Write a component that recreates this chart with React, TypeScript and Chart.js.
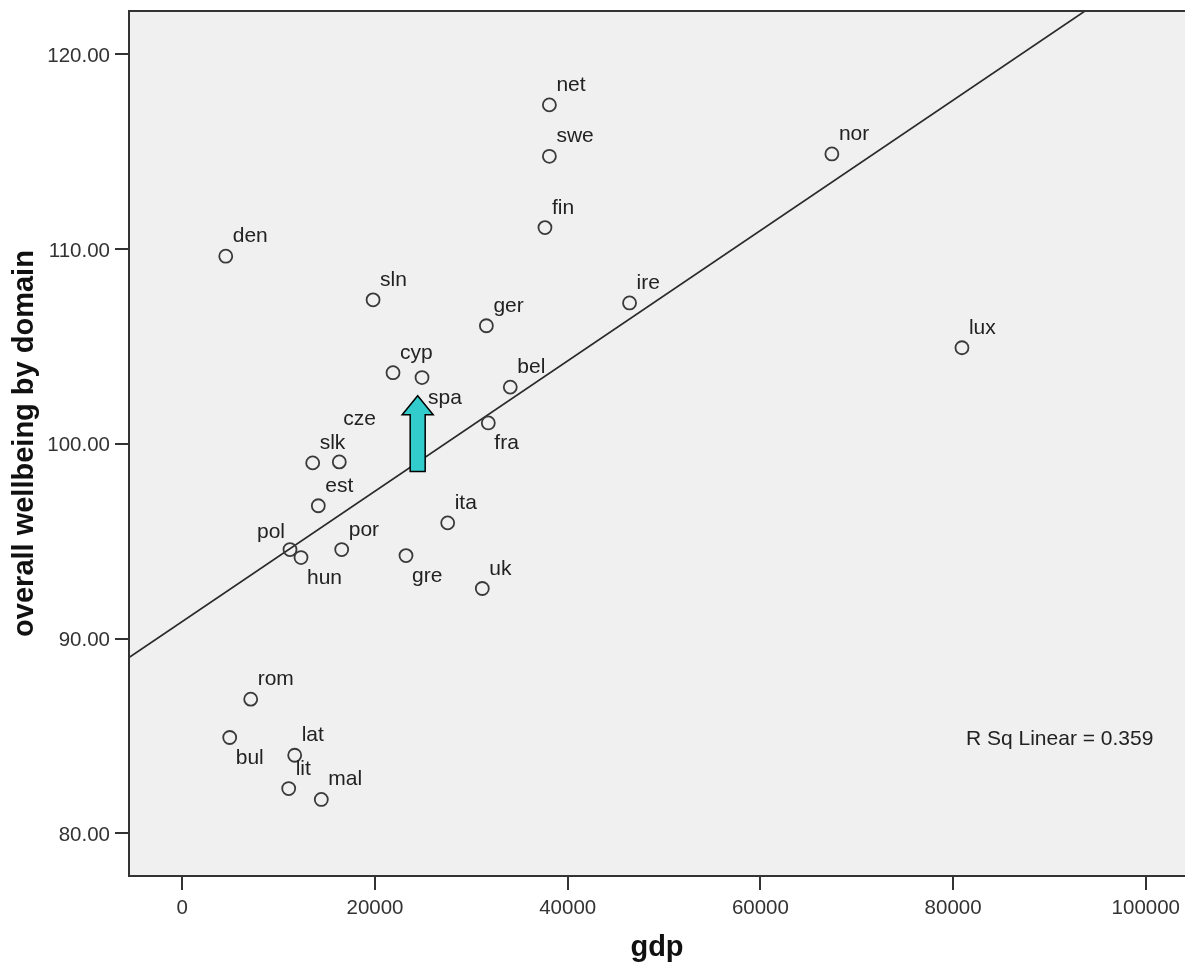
import React, { useEffect, useRef } from "react";
import { Chart, registerables } from "chart.js";

Chart.register(...registerables);

// ---- data ----
const COUNTRIES = ["net", "swe", "fin", "den", "sln", "ger", "ire", "nor", "lux", "cyp", "spa", "bel", "fra", "cze", "slk", "est", "pol", "hun", "por", "gre", "ita", "uk", "rom", "bul", "lat", "lit", "mal"];
const GDP = [38100, 38100, 37640, 4510, 19800, 31560, 46420, 67420, 80920, 21870, 24880, 34040, 31760, 16295, 13534, 14116, 11178, 12320, 16544, 23218, 27545, 31137, 7099, 4920, 11666, 11043, 14427];
const WELLBEING = [117.40, 114.76, 111.10, 109.63, 107.39, 106.06, 107.23, 114.88, 104.93, 103.65, 103.40, 102.91, 101.07, 99.07, 99.02, 96.82, 94.57, 94.16, 94.57, 94.26, 95.94, 92.57, 86.89, 84.92, 84.01, 82.30, 81.74];

const X_TICKS = [0, 20000, 40000, 60000, 80000, 100000];
const Y_TICKS = [80, 90, 100, 110, 120];
const X_MIN = -5532;
const X_MAX = 104070;
const Y_MIN = 77.81;
const Y_MAX = 122.22;

// linear fit line (intercept, slope) and R²
const FIT_INTERCEPT = 90.88;
const FIT_SLOPE = 0.0003345;
const R_SQ_TEXT = "R Sq Linear = 0.359";

// annotation arrow (gdp, from wellbeing, to wellbeing)
const ARROW_GDP = 24430;
const ARROW_FROM = 98.58;
const ARROW_TO = 102.47;

// label placement exceptions (default: above-right)
const LABEL_PLACEMENT: Record<string, string> = {
  spa: "below", fra: "below", gre: "below", hun: "below", bul: "below",
  pol: "left", cze: "high",
};

const FONT = "'Liberation Sans', Arial, Helvetica, sans-serif";

export default function App() {
  const ref = useRef<HTMLCanvasElement | null>(null);

  useEffect(() => {
    const canvas = ref.current;
    if (!canvas) return;

    const bgPlugin = {
      id: "plotBg",
      beforeDraw(chart: any) {
        const { ctx, chartArea: a } = chart;
        ctx.save();
        ctx.fillStyle = "#f0f0f0";
        ctx.fillRect(a.left, a.top, a.right - a.left, a.bottom - a.top);
        ctx.restore();
      },
      afterDraw(chart: any) {
        const { ctx, chartArea: a } = chart;
        ctx.save();
        ctx.strokeStyle = "#333";
        ctx.lineWidth = 2;
        ctx.strokeRect(a.left, a.top, a.right - a.left + 4, a.bottom - a.top);
        ctx.restore();
      },
    };

    const labelPlugin = {
      id: "pointLabels",
      afterDatasetsDraw(chart: any) {
        const { ctx } = chart;
        const meta = chart.getDatasetMeta(0);
        ctx.save();
        ctx.font = `21px ${FONT}`;
        ctx.fillStyle = "#222";
        ctx.textBaseline = "alphabetic";
        meta.data.forEach((pt: any, i: number) => {
          const name = COUNTRIES[i];
          const place = LABEL_PLACEMENT[name] || "above";
          let x = pt.x + 7;
          let y = pt.y - 14;
          ctx.textAlign = "left";
          if (place === "below") { x = pt.x + 6; y = pt.y + 26; }
          else if (place === "left") { ctx.textAlign = "right"; x = pt.x - 5; y = pt.y - 12; }
          else if (place === "high") { x = pt.x + 4; y = pt.y - 37; }
          ctx.fillText(name, x, y);
        });

        // arrow
        const xs = chart.scales.x;
        const ys = chart.scales.y;
        const ax = xs.getPixelForValue(ARROW_GDP);
        const yTip = ys.getPixelForValue(ARROW_TO);
        const yBase = ys.getPixelForValue(ARROW_FROM);
        const shaftHalf = 7.5;
        const headHalf = 15.5;
        const headH = 19;
        ctx.beginPath();
        ctx.moveTo(ax, yTip);
        ctx.lineTo(ax + headHalf, yTip + headH);
        ctx.lineTo(ax + shaftHalf, yTip + headH);
        ctx.lineTo(ax + shaftHalf, yBase);
        ctx.lineTo(ax - shaftHalf, yBase);
        ctx.lineTo(ax - shaftHalf, yTip + headH);
        ctx.lineTo(ax - headHalf, yTip + headH);
        ctx.closePath();
        ctx.fillStyle = "#33cccc";
        ctx.fill();
        ctx.strokeStyle = "#000";
        ctx.lineWidth = 1.5;
        ctx.stroke();

        // R squared
        const a = chart.chartArea;
        ctx.fillStyle = "#222";
        ctx.textAlign = "left";
        ctx.font = `21px ${FONT}`;
        ctx.fillText(R_SQ_TEXT, a.left + 837, a.bottom - 131);
        ctx.restore();
      },
    };

    const chart = new Chart(canvas, {
      type: "scatter",
      data: {
        datasets: [
          {
            label: "countries",
            data: GDP.map((g, i) => ({ x: g, y: WELLBEING[i] })),
            pointStyle: "circle",
            pointRadius: 6.5,
            pointHoverRadius: 6.5,
            pointBorderWidth: 1.8,
            pointBackgroundColor: "rgba(0,0,0,0)",
            pointBorderColor: "#3a3a3a",
            showLine: false,
          },
          {
            type: "line",
            label: "fit",
            data: [X_MIN, X_MAX].map((x) => ({ x, y: FIT_INTERCEPT + FIT_SLOPE * x })),
            borderColor: "#2a2a2a",
            borderWidth: 1.7,
            pointRadius: 0,
            fill: false,
          } as any,
        ],
      },
      options: {
        responsive: false,
        animation: false,
        devicePixelRatio: 1,
        layout: { autoPadding: false, padding: { top: 11, left: 0, right: 0, bottom: 0 } },
        plugins: {
          legend: { display: false },
          tooltip: { enabled: false },
          title: { display: false },
        },
        scales: {
          x: {
            type: "linear",
            min: X_MIN,
            max: X_MAX,
            border: { display: false },
            grid: { display: true, drawOnChartArea: false, drawTicks: true, tickLength: 14, color: "#333", lineWidth: 2 },
            ticks: {
              padding: 6,
              color: "#333",
              font: { family: FONT, size: 20.5 },
              maxRotation: 0,
              callback: (v: any) => String(v),
            },
            afterBuildTicks: (s: any) => { s.ticks = X_TICKS.map((v) => ({ value: v })); },
            afterFit: (s: any) => { s.height = 86; s.paddingLeft = 0; s.paddingRight = 0; },
            title: {
              display: true,
              text: "gdp",
              color: "#111",
              font: { family: FONT, size: 29, weight: "bold" },
              padding: { top: 0, bottom: -3 },
            },
          },
          y: {
            type: "linear",
            min: Y_MIN,
            max: Y_MAX,
            border: { display: false },
            grid: { display: true, drawOnChartArea: false, drawTicks: true, tickLength: 14, color: "#333", lineWidth: 2 },
            ticks: {
              padding: 5,
              labelOffset: 2,
              color: "#333",
              font: { family: FONT, size: 20.5 },
              callback: (v: any) => Number(v).toFixed(2),
            },
            afterBuildTicks: (s: any) => { s.ticks = Y_TICKS.map((v) => ({ value: v })); },
            afterFit: (s: any) => { s.width = 129; s.paddingTop = 0; s.paddingBottom = 0; },
            title: {
              display: true,
              text: "overall wellbeing by domain",
              color: "#111",
              font: { family: FONT, size: 29, weight: "bold" },
              padding: { top: 8, bottom: 0 },
            },
          },
        },
      },
      plugins: [bgPlugin, labelPlugin],
    });

    return () => chart.destroy();
  }, []);

  return (
    <div style={{ position: "absolute", left: 0, top: 0, width: 1185, height: 962, background: "#fff" }}>
      <canvas ref={ref} width={1185} height={962} style={{ display: "block" }} />
    </div>
  );
}
